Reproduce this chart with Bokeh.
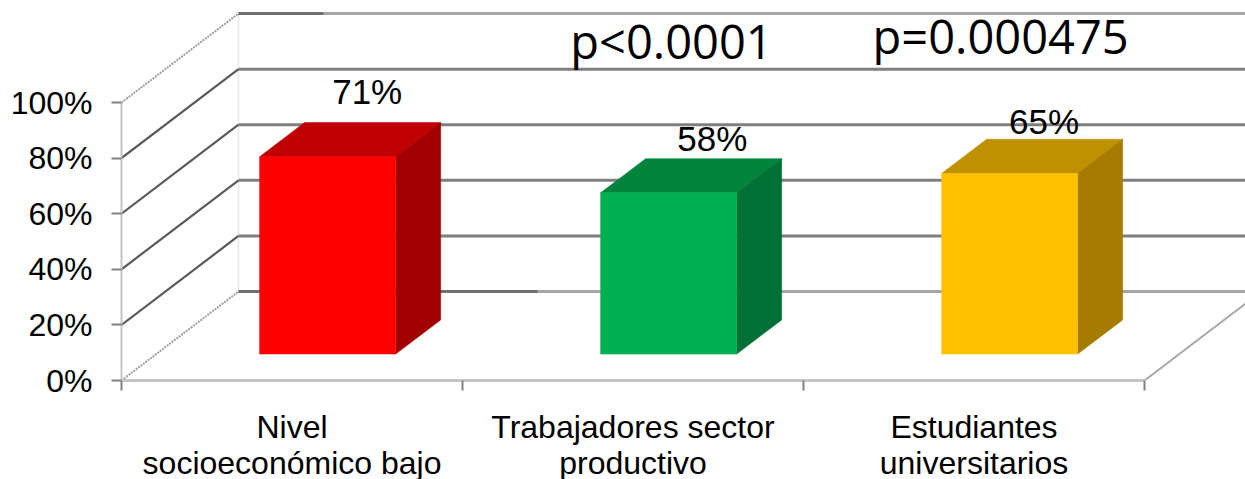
from bokeh.plotting import figure
from bokeh.models import FixedTicker, Range1d
from bokeh.core.properties import value
from bokeh.embed import file_html
from bokeh.resources import INLINE

categories = ["Nivel\nsocioeconómico bajo", "Trabajadores sector\nproductivo", "Estudiantes\nuniversitarios"]
values = [71, 58, 65]
value_labels = ["71%", "58%", "65%"]
y_ticks = [0, 20, 40, 60, 80, 100]
y_tick_labels = ["0%", "20%", "40%", "60%", "80%", "100%"]
front_colors = ["#ff0000", "#00b050", "#ffc000"]
top_colors = ["#c00000", "#00843c", "#bf9000"]
side_colors = ["#a00000", "#007035", "#a67c00"]
annotations = ["p<0.0001", "p=0.000475"]

# layout constants of the pseudo-3D projection
W, H = 1245, 479
LEFT, BOTTOM_PX, AXIS_Y = 121, 99, 380
UX, UY = 341.0, 2.78
XMAX = (W - LEFT) / UX
YMAX = AXIS_Y / UY
WALL_DX, WALL_DY = 117 / UX, 32.0
BAR_X0, BAR_W, BAR_BASE = 0.405, 0.399, 9.5
BAR_DX, BAR_DY = 45 / UX, 12.3
LABEL_DX = [0.116, 0.128, 0.101]
LABEL_DY = [23.4, 19.7, 18.7]

p = figure(width=W, height=H, output_backend="svg", toolbar_location=None,
           x_range=Range1d(0, XMAX), y_range=Range1d(0, YMAX),
           min_border_left=LEFT, min_border_bottom=BOTTOM_PX, min_border_top=0, min_border_right=0,
           frame_width=W - LEFT, frame_height=AXIS_Y,
           x_axis_type="linear", y_axis_type="linear", tools="")
p.outline_line_color = None
p.grid.visible = False
p.background_fill_color = "white"
p.border_fill_color = "white"

# axes
FONT = "Liberation Sans"
yax = p.yaxis[0]
yax.ticker = FixedTicker(ticks=y_ticks)
yax.major_label_overrides = {t: l for t, l in zip(y_ticks, y_tick_labels)}
yax.bounds = (0, 100)
yax.axis_line_color = "#c4c4c4"
yax.axis_line_width = 2
yax.major_tick_line_color = "#808080"
yax.major_tick_line_width = 2
yax.major_tick_out = 10
yax.major_tick_in = 0
yax.minor_tick_line_color = None
yax.major_label_standoff = 19
yax.major_label_text_font = FONT
yax.major_label_text_font_size = "32px"
yax.major_label_text_color = "black"

xax = p.xaxis[0]
centers = [i + 0.5 for i in range(len(categories))]
edges = [float(i) for i in range(len(categories) + 1)]
xax.ticker = FixedTicker(ticks=centers, minor_ticks=edges)
xax.major_label_overrides = {c: l for c, l in zip(centers, categories)}
xax.bounds = (0, 3)
xax.axis_line_color = "#c4c4c4"
xax.axis_line_width = 3
xax.major_tick_line_color = None
xax.minor_tick_line_color = "#808080"
xax.minor_tick_line_width = 2
xax.minor_tick_out = 10
xax.minor_tick_in = 0
xax.major_label_standoff = 18
xax.major_label_text_font = FONT
xax.major_label_text_font_size = "32px"
xax.major_label_text_color = "black"
xax.major_label_text_line_height = 1.0
xax.major_label_orientation = "horizontal"

# back wall edge and walls
p.segment([WALL_DX], [WALL_DY], [WALL_DX], [100 + WALL_DY], line_color="#e8e8e8", line_width=1.5)
for t in y_ticks:
    edge = t in (0, 100)
    p.segment([0], [t], [WALL_DX], [t + WALL_DY],
              line_color="#a0a0a0" if edge else "#5a5a5a",
              line_width=2 if edge else 2.2,
              line_dash="2 1" if edge else "solid")
    p.segment([WALL_DX], [t + WALL_DY], [XMAX], [t + WALL_DY],
              line_color="#a6a6a6" if edge else "#7f7f7f", line_width=3)
# darker starting runs of the back lines
p.segment([WALL_DX], [WALL_DY], [416 / UX], [WALL_DY], line_color="#707070", line_width=3)
p.segment([WALL_DX], [100 + WALL_DY], [202 / UX], [100 + WALL_DY], line_color="#707070", line_width=3)
# right floor edge
p.segment([3], [0], [3 + WALL_DX], [WALL_DY], line_color="#a8a8a8", line_width=2)

# bars
for i, v in enumerate(values):
    x0 = i + BAR_X0
    x1 = x0 + BAR_W
    y0 = BAR_BASE
    y1 = BAR_BASE + v
    p.patch([x0, x1, x1 + BAR_DX, x0 + BAR_DX], [y1, y1, y1 + BAR_DY, y1 + BAR_DY],
            fill_color=top_colors[i], line_color=top_colors[i], line_width=0.5)
    p.patch([x1, x1 + BAR_DX, x1 + BAR_DX, x1], [y0, y0 + BAR_DY, y1 + BAR_DY, y1],
            fill_color=side_colors[i], line_color=side_colors[i], line_width=0.5)
    p.quad(left=[x0], right=[x1], bottom=[y0], top=[y1],
           fill_color=front_colors[i], line_color=front_colors[i], line_width=0.5)
    p.text([x0 + BAR_W / 2 + LABEL_DX[i]], [y1 + LABEL_DY[i]], text=[value_labels[i]],
           text_font=value(FONT), text_font_size="35px", text_color="black",
           text_align="center", text_baseline="middle")

# annotations
p.text([1.613, 2.578], [122, 124], text=annotations,
       text_font=value("Open Sans"), text_font_size="47px", text_color="black",
       text_align="center", text_baseline="middle")

open("out.html", "w").write(file_html(p, INLINE))
